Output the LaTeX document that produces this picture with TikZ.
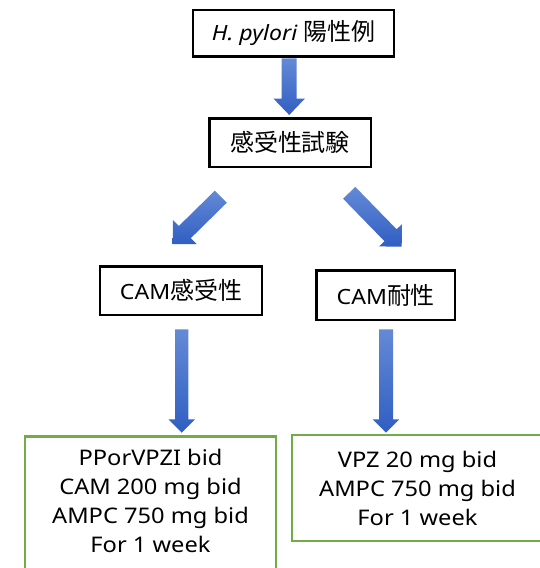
\documentclass[tikz,border=0pt]{standalone}
\usepackage{fontspec}
\setmainfont{Noto Sans}[FakeStretch=1.1]
\newfontfamily\jpfont{Noto Sans CJK JP}[Scale=1.14]
\usetikzlibrary{calc}
\definecolor{arrowtop}{RGB}{100,138,214}
\definecolor{arrowbot}{RGB}{48,94,194}
\definecolor{rxgreen}{RGB}{112,173,71}

% Block arrow from tail to tip: shaft half width, head half width, head length
\newcommand{\blockarrow}[5]{%
  \coordinate (ba-h) at ($(#2)!#5!(#1)$);
  \shade[arrowfill]
    ($(#1)!#3!90:(#2)$) -- ($(ba-h)!#3!-90:(#1)$) -- ($(ba-h)!#4!-90:(#1)$)
    -- (#2)
    -- ($(ba-h)!#4!90:(#1)$) -- ($(ba-h)!#3!90:(#1)$) -- ($(#1)!#3!-90:(#2)$) -- cycle;
}

\begin{document}
\begin{tikzpicture}[x=1pt,y=-1pt,
  stepbox/.style={draw=black, line width=2.4pt, fill=white, inner sep=0pt,
    font=\fontsize{21}{25}\selectfont},
  rxbox/.style={draw=rxgreen, line width=2.8pt, inner sep=0pt},
  rxtext/.style={align=center, font=\fontsize{21.5}{29}\selectfont},
  arrowfill/.style={top color=arrowtop, bottom color=arrowbot, draw=none}]
\useasboundingbox (0,0) rectangle (540,568);

% flow boxes
\node[stepbox, minimum width=201pt, minimum height=46.7pt] (pos) at (293.5,33.3)
  {\itshape H. pylori\upshape\ {\jpfont 陽性例}};
\node[stepbox, minimum width=161.4pt, minimum height=48.4pt] (test) at (290,142.5)
  {\jpfont 感受性試験};
\node[stepbox, minimum width=162pt, minimum height=48.3pt] (sens) at (181,290.8)
  {CAM{\jpfont 感受性}};
\node[stepbox, minimum width=138.3pt, minimum height=49.3pt] (res) at (385.8,295.3)
  {CAM{\jpfont 耐性}};

% regimen boxes
\node[rxbox, minimum width=251pt, minimum height=150pt, anchor=north] (rx1) at (150.5,435) {};
\node[rxtext] (rx1t) at (150.5,500.5)
  {PPorVPZI bid\\CAM 200 mg bid\\AMPC 750 mg bid\\For 1 week};
\node[rxbox, rxtext, minimum width=251pt, minimum height=106pt] (rx2) at (417.5,488)
  {VPZ 20 mg bid\\AMPC 750 mg bid\\For 1 week};

% arrow end points
\coordinate (a1t) at (289.2,58.3);   \coordinate (a1h) at (289.2,115);
\coordinate (a2t) at (220.8,196.7);  \coordinate (a2h) at (172.7,244);
\coordinate (a3t) at (349.2,192.8);  \coordinate (a3h) at (401.7,246.7);
\coordinate (a4t) at (181.7,329.3);  \coordinate (a4h) at (181.7,432.7);
\coordinate (a5t) at (386,329.3);    \coordinate (a5h) at (386,432.7);

\blockarrow{a1t}{a1h}{7.5pt}{15.8pt}{16.5pt}
\blockarrow{a2t}{a2h}{8.5pt}{17pt}{17pt}
\blockarrow{a3t}{a3h}{8.5pt}{16pt}{16pt}
\blockarrow{a4t}{a4h}{6.7pt}{13.3pt}{13.4pt}
\blockarrow{a5t}{a5h}{7pt}{13.3pt}{13.4pt}
\end{tikzpicture}
\end{document}
